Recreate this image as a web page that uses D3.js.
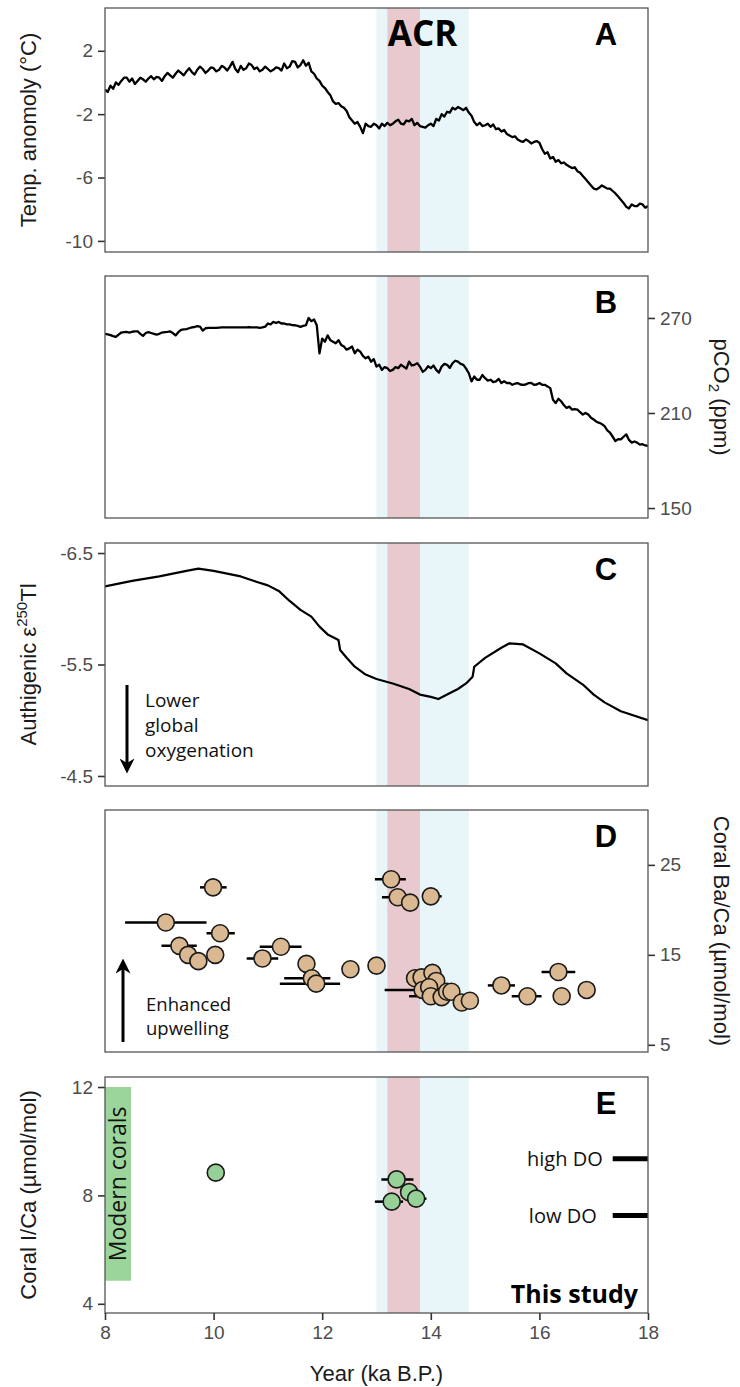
<!DOCTYPE html>
<html>
<head>
<meta charset="utf-8">
<script src="https://cdn.jsdelivr.net/npm/d3@7"></script>
<style>
  body { margin: 0; background: #fff; }
</style>
</head>
<body>
<svg></svg>
<script>
var recordStart = 8
var recordStep = 0.05

// A: temperature anomaly (degC)
var tempValues = [
  -0.45,-0.6,-0.2,-0.4,0.0,-0.15,0.1,0.3,0.3,0.05,0.25,-0.1,0.1,0.3,0.2,0.05,0.25,0.4,0.2,0.35,
  0.3,0.1,0.4,0.6,0.45,0.3,0.55,0.75,0.6,0.45,0.7,0.9,0.65,0.5,0.8,1.0,0.85,0.6,0.75,0.95,
  0.9,0.7,0.8,1.05,0.95,0.75,1.0,1.3,0.85,0.65,1.05,0.8,0.9,1.2,1.1,0.85,0.95,0.7,0.8,1.0,
  0.85,0.7,0.8,0.95,0.9,0.75,1.2,0.9,1.0,1.35,1.3,0.95,1.1,1.4,1.05,1.25,0.7,0.55,0.25,0.1,
  -0.2,-0.35,-0.6,-0.8,-1.2,-1.35,-1.3,-1.5,-1.6,-1.8,-2.2,-2.4,-2.6,-2.5,-2.8,-3.2,-2.6,-2.75,-2.8,-2.6,
  -2.7,-2.9,-2.6,-2.75,-2.55,-2.7,-2.6,-2.45,-2.35,-2.6,-2.65,-2.4,-2.45,-2.3,-2.7,-2.55,-2.75,-2.8,-2.85,-2.7,
  -2.6,-2.75,-2.3,-2.4,-2.0,-2.15,-1.85,-1.9,-1.6,-1.7,-1.55,-1.65,-1.75,-1.6,-1.9,-2.1,-2.5,-2.7,-2.55,-2.75,
  -2.7,-2.6,-2.8,-2.65,-2.95,-2.9,-3.1,-3.0,-3.25,-3.35,-3.45,-3.4,-3.6,-3.7,-3.75,-3.6,-3.7,-3.85,-3.75,-3.7,
  -3.8,-4.2,-4.5,-4.4,-4.8,-4.7,-5.0,-4.9,-5.1,-5.05,-5.2,-5.3,-5.4,-5.35,-5.6,-5.7,-5.9,-6.1,-6.3,-6.5,
  -6.7,-6.75,-6.65,-6.5,-6.6,-6.7,-6.7,-6.85,-7.0,-7.2,-7.4,-7.6,-7.85,-7.95,-7.7,-7.8,-7.8,-7.65,-7.7,-7.9,-7.8
]

// B: atmospheric pCO2 (ppm)
var co2Values = [
  260,259.6,259.2,258.5,258,259.5,260.8,261,261.2,260.8,261.3,261.5,261.6,260,258.7,260.5,261,260.5,260,259.5,
  260,260.8,261,261.2,261.5,260.5,259,261,262.5,262.8,263,263.5,264,264.3,264.8,264.5,262,263.5,263.7,263.8,
  263.7,263.8,263.9,264,264,264.1,264,264,264,264,264,264,264,264.2,264,264,264,263.8,264,264.5,
  266.5,266,267.5,266.8,267.5,266.5,266.5,266,266,265.5,265.4,265,264.4,265,265.4,270,268,269,265.4,247.7,
  257,255,259,256,255,254,256,253,252,250,250.8,252,247.7,250,248.7,246,244.5,245.5,242.4,244,
  239.3,240.5,237.2,239,238.3,236.5,237.2,239,238.3,240.5,239.3,238,242.4,240,240.4,241.5,239.3,236,237.2,239.5,
  238.3,240,237.2,235.5,239.3,241,240.4,238.5,241.4,243,242.4,241,240.4,238,235.1,230,233,231,231,234,
  232,230.5,231,229.5,230,231.5,228.9,230,228.9,229,227.8,228.5,228.9,228,227.8,228,228.9,229,227.8,228,
  228.9,227.8,227.8,226.8,225.7,218.4,216.3,219,217.4,215,213.2,214,212.2,212.5,212.2,210.5,209,210,209,207,
  205.9,204.5,203.8,203,201.7,199,197.6,195,192.3,193.5,193.4,195,196.5,193,191.3,192,191.3,190,190.3,189.5,189.2
]

// C: authigenic thallium isotopes
var tlAges = [8.0,8.5,9.0,9.5,9.72,10.0,10.5,10.8,11.0,11.2,11.4,11.6,11.8,11.95,12.1,12.3,12.33,12.45,12.6,12.8,
  13.0,13.3,13.6,13.8,14.0,14.14,14.3,14.5,14.65,14.77,14.8,15.0,15.3,15.45,15.7,16.0,16.3,16.5,16.8,17.0,17.2,17.5,18.0]
var tlValues = [-6.20,-6.25,-6.29,-6.34,-6.36,-6.34,-6.29,-6.24,-6.21,-6.16,-6.07,-5.99,-5.93,-5.84,-5.77,-5.72,-5.63,-5.56,-5.48,-5.41,
  -5.37,-5.33,-5.28,-5.23,-5.21,-5.19,-5.23,-5.28,-5.33,-5.39,-5.48,-5.56,-5.65,-5.69,-5.68,-5.60,-5.51,-5.42,-5.32,-5.23,-5.16,-5.08,-5.00]

// D: coral Ba/Ca (umol/mol) with age ranges
var baAges = [9.12,9.99,10.12,9.37,9.53,9.72,10.03,10.90,11.24,11.71,11.81,11.89,12.52,13.0,13.27,13.39,13.62,14.0,
  13.71,13.83,14.03,14.10,13.85,13.97,14.0,14.20,14.30,14.38,14.57,14.72,15.30,15.78,16.35,16.41,16.87]
var baValues = [18.6,22.5,17.4,16.0,15.0,14.3,15.0,14.6,15.9,14.0,12.4,11.8,13.4,13.8,23.4,21.4,20.8,21.5,
  12.4,12.5,13.0,12.1,11.1,11.4,10.4,10.3,10.9,10.9,9.7,9.9,11.6,10.4,13.1,10.4,11.1]
var baAgeLo = [8.37,9.75,9.87,9.04,9.53,9.72,10.03,10.61,10.85,11.71,11.30,11.22,12.52,13.0,12.97,13.10,13.62,13.85,
  13.71,13.83,14.03,14.10,13.15,13.97,13.60,14.20,14.30,14.38,14.57,14.72,15.05,15.49,16.04,16.41,16.87]
var baAgeHi = [9.87,10.24,10.39,9.69,9.53,9.72,10.03,11.19,11.62,11.71,12.15,12.33,12.52,13.0,13.54,13.45,13.62,14.20,
  13.71,13.83,14.03,14.10,14.0,13.97,14.10,14.20,14.30,14.38,14.57,14.72,15.55,16.04,16.66,16.41,16.87]

// E: coral I/Ca (umol/mol), this study
var iAges = [10.04,13.37,13.28,13.60,13.73]
var iValues = [8.84,8.59,7.77,8.12,7.88]
var iAgeLo = [10.04,13.09,12.97,13.45,13.60]
var iAgeHi = [10.04,13.68,13.49,13.75,13.92]

// modern coral range and dissolved oxygen reference levels
var modernAges = [8.0, 8.48]
var modernRange = [4.85, 12]
var doLabels = ['high DO', 'low DO']
var doValues = [9.35, 7.26]
var doAges = [17.35, 18.0]

// Antarctic Cold Reversal shading
var acrOuter = [13.0, 14.7]
var acrInner = [13.2, 13.8]

var xTicks = [8, 10, 12, 14, 16, 18]
var tempTicks = [2, -2, -6, -10]
var co2Ticks = [270, 210, 150]
var tlTicks = [-6.5, -5.5, -4.5]
var baTicks = [25, 15, 5]
var iTicks = [12, 8, 4]

var width = 740
var height = 1387
var left = 105
var right = 648

var svg = d3.select('svg').attr('width', width).attr('height', height)

var x = d3.scaleLinear().domain([8, 18]).range([left, right])

var panels = [
  { letter: 'A', top: 8, bottom: 252, domain: [-10.7, 4.7], ticks: tempTicks, side: 'left' },
  { letter: 'B', top: 276, bottom: 518, domain: [143.7, 296.5], ticks: co2Ticks, side: 'right' },
  { letter: 'C', top: 543, bottom: 786, domain: [-4.41, -6.59], ticks: tlTicks, side: 'left' },
  { letter: 'D', top: 810, bottom: 1052, domain: [4.2, 31.1], ticks: baTicks, side: 'right' },
  { letter: 'E', top: 1077, bottom: 1313, domain: [3.66, 12.37], ticks: iTicks, side: 'left' }
]

var tickFont = '"Liberation Sans", Arial, sans-serif'
var labelFont = '"Open Sans", sans-serif'

panels.forEach(function (p, i) {
  p.y = d3.scaleLinear().domain(p.domain).range([p.bottom, p.top])
  var g = svg.append('g').attr('class', 'panel-' + p.letter)
  p.g = g

  svg.append('clipPath').attr('id', 'clip' + i)
    .append('rect')
    .attr('x', left).attr('y', p.top)
    .attr('width', right - left).attr('height', p.bottom - p.top)

  // shaded bands
  g.append('rect')
    .attr('x', x(acrOuter[0])).attr('width', x(acrOuter[1]) - x(acrOuter[0]))
    .attr('y', p.top).attr('height', p.bottom - p.top)
    .attr('fill', '#e9f6f9')
  g.append('rect')
    .attr('x', x(acrInner[0])).attr('width', x(acrInner[1]) - x(acrInner[0]))
    .attr('y', p.top).attr('height', p.bottom - p.top)
    .attr('fill', '#e8c9cd')

  p.plot = g.append('g').attr('clip-path', 'url(#clip' + i + ')')

  var axis = p.side === 'left' ? d3.axisLeft(p.y) : d3.axisRight(p.y)
  axis.tickValues(p.ticks).tickSize(7).tickPadding(5).tickFormat(function (d) { return String(d) })
  var ax = g.append('g')
    .attr('transform', 'translate(' + (p.side === 'left' ? left : right) + ',0)')
    .call(axis)
  ax.select('.domain').remove()
  ax.selectAll('line').attr('stroke', '#333').attr('stroke-width', 1.6)
  ax.selectAll('text').attr('fill', '#4d4d4d').style('font-family', tickFont).style('font-size', '19px')
})

var line = function (p) {
  return d3.line().x(function (d) { return x(d[0]) }).y(function (d) { return p.y(d[1]) })
}

function gridAges(values) {
  return values.map(function (v, i) { return [+(recordStart + i * recordStep).toFixed(2), v] })
}

// A
panels[0].plot.append('path')
  .datum(gridAges(tempValues))
  .attr('d', line(panels[0]))
  .attr('fill', 'none').attr('stroke', '#000').attr('stroke-width', 2.3).attr('stroke-linejoin', 'round')

// B
panels[1].plot.append('path')
  .datum(gridAges(co2Values))
  .attr('d', line(panels[1]))
  .attr('fill', 'none').attr('stroke', '#000').attr('stroke-width', 2.3).attr('stroke-linejoin', 'round')

// C
panels[2].plot.append('path')
  .datum(tlAges.map(function (a, i) { return [a, tlValues[i]] }))
  .attr('d', line(panels[2]))
  .attr('fill', 'none').attr('stroke', '#000').attr('stroke-width', 2.2).attr('stroke-linejoin', 'round')

// D
var pD = panels[3]
pD.plot.selectAll('line.err')
  .data(baAges)
  .enter().append('line')
    .attr('class', 'err')
    .attr('x1', function (d, i) { return x(baAgeLo[i]) })
    .attr('x2', function (d, i) { return x(baAgeHi[i]) })
    .attr('y1', function (d, i) { return pD.y(baValues[i]) })
    .attr('y2', function (d, i) { return pD.y(baValues[i]) })
    .attr('stroke', '#000').attr('stroke-width', 2.5)
pD.plot.selectAll('circle')
  .data(baAges)
  .enter().append('circle')
    .attr('cx', function (d) { return x(d) })
    .attr('cy', function (d, i) { return pD.y(baValues[i]) })
    .attr('r', 8.5)
    .attr('fill', '#dab891').attr('stroke', '#1a1a1a').attr('stroke-width', 1.6)

// E
var pE = panels[4]
pE.plot.append('rect')
  .attr('x', x(modernAges[0])).attr('width', x(modernAges[1]) - x(modernAges[0]))
  .attr('y', pE.y(modernRange[1])).attr('height', pE.y(modernRange[0]) - pE.y(modernRange[1]))
  .attr('fill', '#9bd59b')
pE.g.append('text')
  .attr('transform', 'translate(' + ((x(modernAges[0]) + x(modernAges[1])) / 2) + ',' + pE.y((modernRange[0] + modernRange[1]) / 2) + ') rotate(-90)')
  .attr('text-anchor', 'middle').attr('dy', '0.36em')
  .style('font-family', labelFont).style('font-size', '23px').attr('fill', '#111')
  .text('Modern corals')

pE.plot.selectAll('line.err')
  .data(iAges)
  .enter().append('line')
    .attr('class', 'err')
    .attr('x1', function (d, i) { return x(iAgeLo[i]) })
    .attr('x2', function (d, i) { return x(iAgeHi[i]) })
    .attr('y1', function (d, i) { return pE.y(iValues[i]) })
    .attr('y2', function (d, i) { return pE.y(iValues[i]) })
    .attr('stroke', '#000').attr('stroke-width', 2.5)
pE.plot.selectAll('circle')
  .data(iAges)
  .enter().append('circle')
    .attr('cx', function (d) { return x(d) })
    .attr('cy', function (d, i) { return pE.y(iValues[i]) })
    .attr('r', 8.5)
    .attr('fill', '#98d198').attr('stroke', '#1a1a1a').attr('stroke-width', 1.6)

doValues.forEach(function (v, i) {
  pE.plot.append('line')
    .attr('x1', x(doAges[0])).attr('x2', x(doAges[1]))
    .attr('y1', pE.y(v)).attr('y2', pE.y(v))
    .attr('stroke', '#000').attr('stroke-width', 5)
  pE.g.append('text')
    .attr('x', x(doAges[0]) - (i === 0 ? 10 : 16)).attr('y', pE.y(v)).attr('dy', '0.36em')
    .attr('text-anchor', 'end')
    .style('font-family', labelFont).style('font-size', '20px').attr('fill', '#111')
    .text(doLabels[i])
})

pE.g.append('text')
  .attr('x', 638).attr('y', 1303)
  .attr('text-anchor', 'end')
  .style('font-family', labelFont).style('font-size', '25px').style('font-weight', 'bold')
  .text('This study')

// x axis on the bottom panel only
var xAxis = svg.append('g')
  .attr('transform', 'translate(0,' + pE.bottom + ')')
  .call(d3.axisBottom(x).tickValues(xTicks).tickSize(7).tickPadding(6))
xAxis.select('.domain').remove()
xAxis.selectAll('line').attr('stroke', '#333').attr('stroke-width', 1.6)
xAxis.selectAll('text').attr('fill', '#4d4d4d').style('font-family', tickFont).style('font-size', '19px')

svg.append('text')
  .attr('x', (left + right) / 2).attr('y', 1381)
  .attr('text-anchor', 'middle')
  .style('font-family', tickFont).style('font-size', '22px').attr('fill', '#1a1a1a')
  .text('Year (ka B.P.)')

// panel frames and letters
panels.forEach(function (p) {
  p.g.append('rect')
    .attr('x', left).attr('y', p.top)
    .attr('width', right - left).attr('height', p.bottom - p.top)
    .attr('fill', 'none').attr('stroke', '#555').attr('stroke-width', 1.3)
  p.g.append('text')
    .attr('x', 606).attr('y', p.top + 37)
    .attr('text-anchor', 'middle')
    .style('font-family', tickFont).style('font-size', '31px').style('font-weight', 'bold')
    .text(p.letter)
})

svg.append('text')
  .attr('x', x((acrOuter[0] + acrOuter[1]) / 2)).attr('y', 46)
  .attr('text-anchor', 'middle')
  .style('font-family', labelFont).style('font-size', '35px').style('font-weight', 'bold')
  .text('ACR')

// axis titles
function yTitle(p, side) {
  var cx = side === 'left' ? 28 : 722
  var cy = (p.top + p.bottom) / 2
  return svg.append('text')
    .attr('transform', 'translate(' + cx + ',' + cy + ') rotate(' + (side === 'left' ? -90 : 90) + ')')
    .attr('text-anchor', 'middle').attr('dy', '0.36em')
    .style('font-family', tickFont).style('font-size', '22px').attr('fill', '#1a1a1a')
}

yTitle(panels[0], 'left').text('Temp. anomoly (°C)')

var co2Title = yTitle(panels[1], 'right')
co2Title.append('tspan').text('pCO')
co2Title.append('tspan').attr('dy', 5).style('font-size', '15px').text('2')
co2Title.append('tspan').attr('dy', -5).text(' (ppm)')

var tlTitle = yTitle(panels[2], 'left')
tlTitle.append('tspan').text('Authigenic ε')
tlTitle.append('tspan').attr('dy', -9).style('font-size', '15px').text('250')
tlTitle.append('tspan').attr('dy', 9).text('Tl')

yTitle(panels[3], 'right').text('Coral Ba/Ca (µmol/mol)')
yTitle(panels[4], 'left').text('Coral I/Ca (µmol/mol)')

// annotation arrows
svg.append('defs').append('marker')
  .attr('id', 'head')
  .attr('viewBox', '0 0 10 10')
  .attr('refX', 5).attr('refY', 5)
  .attr('markerWidth', 5).attr('markerHeight', 5)
  .attr('orient', 'auto')
  .append('path')
  .attr('d', d3.line()([[0, 0], [10, 5], [0, 10], [3, 5]]))
  .attr('fill', '#000')

svg.append('line')
  .attr('x1', 127).attr('y1', 685).attr('x2', 127).attr('y2', 766)
  .attr('stroke', '#000').attr('stroke-width', 3).attr('marker-end', 'url(#head)')

;['Lower', 'global', 'oxygenation'].forEach(function (t, i) {
  svg.append('text')
    .attr('x', 145).attr('y', 707 + i * 25)
    .style('font-family', labelFont).style('font-size', '19px').attr('fill', '#111')
    .text(t)
})

svg.append('line')
  .attr('x1', 123).attr('y1', 1042).attr('x2', 123).attr('y2', 966)
  .attr('stroke', '#000').attr('stroke-width', 3).attr('marker-end', 'url(#head)')

;['Enhanced', 'upwelling'].forEach(function (t, i) {
  svg.append('text')
    .attr('x', 146).attr('y', 1011 + i * 24)
    .style('font-family', labelFont).style('font-size', '18.5px').attr('fill', '#111')
    .text(t)
})
</script>
</body>
</html>
